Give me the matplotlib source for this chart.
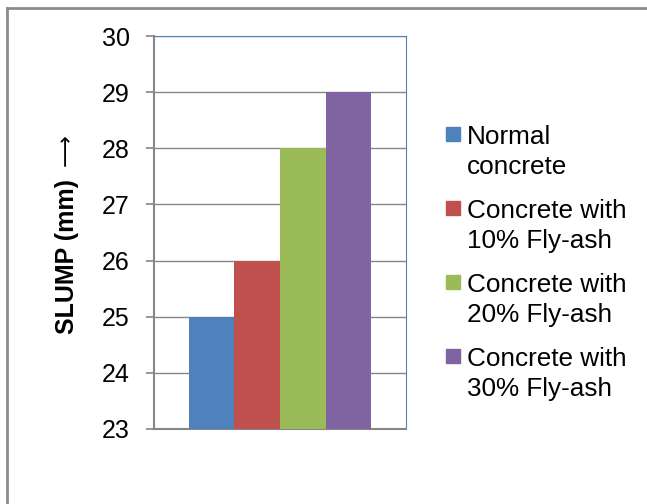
import matplotlib
matplotlib.use('Agg')
import matplotlib.pyplot as plt
from matplotlib.lines import Line2D
from matplotlib.patches import Rectangle

plt.rcParams['font.family'] = ['Liberation Sans', 'DejaVu Sans']

labels = ['Normal\nconcrete', 'Concrete with\n10% Fly-ash',
          'Concrete with\n20% Fly-ash', 'Concrete with\n30% Fly-ash']
slump = [25, 26, 28, 29]
colors = ['#4F81BD', '#C0504D', '#9BBB59', '#8064A2']
yticks = [23, 24, 25, 26, 27, 28, 29, 30]

W, H = 647, 504
fig = plt.figure(figsize=(6.47, 5.04), dpi=100)
ax = fig.add_axes([154 / W, 75 / H, 252 / W, 393 / H])

# one cluster of four bars, gap width like excel (150%)
bw = 0.1815
offsets = [(i - 1.5) * bw for i in range(len(slump))]
ax.bar(offsets, slump, width=bw, color=colors, zorder=3)

ax.set_xlim(-0.5, 0.5)
ax.set_ylim(23, 30)
ax.set_yticks(yticks)
ax.set_xticks([])
ax.grid(axis='y', color='#868686', linewidth=1, zorder=0)
ax.tick_params(axis='y', length=5.5, width=1.2, color='#868686', pad=12, labelsize=18)

ax.spines['left'].set_color('#868686')
ax.spines['bottom'].set_color('#868686')
ax.spines['left'].set_linewidth(1.5)
ax.spines['bottom'].set_linewidth(1.5)
ax.spines['top'].set_color('#4F81BD')
ax.spines['right'].set_color('#4F81BD')

ax.text(-0.345, 0.44, 'SLUMP (mm)', transform=ax.transAxes, rotation=90,
        ha='center', va='center', fontsize=18, fontweight='bold')
ax.text(-0.35, 0.71, '\u27f6', transform=ax.transAxes, rotation=90,
        ha='center', va='center', fontsize=16, family=['DejaVu Sans'])

# legend on the right, marker level with first line of each entry
for i, (lab, c) in enumerate(zip(labels, colors)):
    top = 127 + i * 74
    fig.patches.append(Rectangle((446 / W, 1 - (top + 14) / H), 14 / W, 14 / H,
                                 transform=fig.transFigure, color=c))
    fig.text(467 / W, 1 - (top - 2) / H, lab, ha='left', va='top',
             fontsize=18.8, linespacing=1.3)

# chart frame
fig.add_artist(Line2D([7 / W, 7 / W], [0, 1 - 8 / H], transform=fig.transFigure,
                      color='#8C8C8C', linewidth=2))
fig.add_artist(Line2D([7 / W, 1], [1 - 8 / H, 1 - 8 / H], transform=fig.transFigure,
                      color='#8C8C8C', linewidth=2))

plt.savefig('out.png', dpi=100)
